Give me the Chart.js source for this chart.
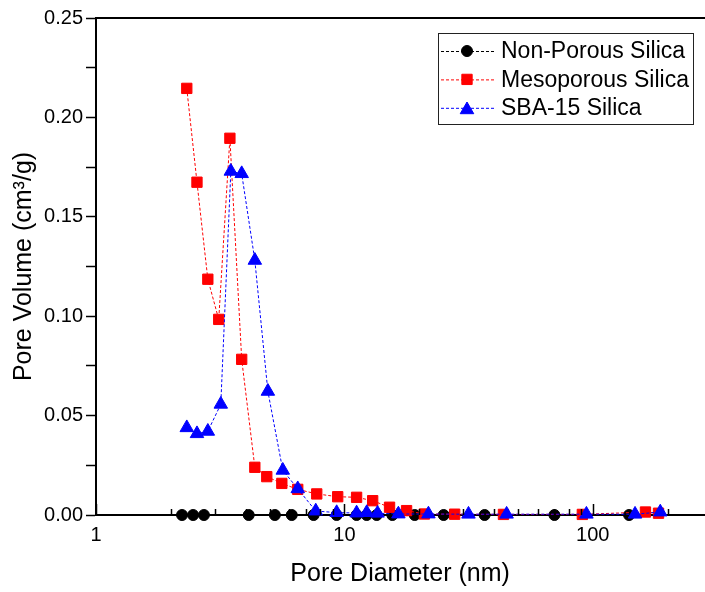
<!DOCTYPE html>
<html>
<head>
<meta charset="utf-8">
<title>Pore size distribution</title>
<script src="https://cdn.jsdelivr.net/npm/chart.js@4.4.1/dist/chart.umd.min.js"></script>
<style>
  html, body { margin: 0; padding: 0; background: #fff; overflow: hidden; }
  #poreChart { display: block; }
</style>
</head>
<body>
<canvas id="poreChart" width="713" height="592"></canvas>
<script>
const FONT = '"Liberation Sans", Arial, Helvetica, sans-serif';

const seriesNames = ["Non-Porous Silica", "Mesoporous Silica", "SBA-15 Silica"];
const seriesColors = ["#000000", "#ff0000", "#0000ff"];
const seriesMarkers = ["circle", "rect", "triangle"];

const nonPorousDiameter = [2.22, 2.46, 2.72, 4.12, 5.25, 6.14, 7.52, 9.31, 11.2, 12.3, 13.5, 15.6, 19.2, 25.1, 36.7, 70.1, 140];
const nonPorousVolume = [0, 0, 0, 0, 0, 0, 0, 0, 0, 0, 0, 0, 0, 0, 0, 0, 0];

const mesoDiameter = [2.32, 2.55, 2.82, 3.12, 3.46, 3.86, 4.36, 4.87, 5.60, 6.49, 7.74, 9.40, 11.2, 13.0, 15.2, 17.8, 21.0, 27.8, 43.7, 90.8, 163, 184];
const mesoVolume = [0.2146, 0.1674, 0.1186, 0.0984, 0.1895, 0.0783, 0.0240, 0.0193, 0.0159, 0.0129, 0.0106, 0.0092, 0.0089, 0.0072, 0.0039, 0.0022, 0.0005, 0.0004, 0.0003, 0.0003, 0.0015, 0.0009];

const sbaDiameter = [2.32, 2.55, 2.82, 3.18, 3.49, 3.86, 4.36, 4.92, 5.65, 6.49, 7.67, 9.31, 11.2, 12.3, 13.6, 16.5, 21.8, 31.6, 45.0, 94.3, 148, 187];
const sbaVolume = [0.0439, 0.0409, 0.0421, 0.0557, 0.1729, 0.1717, 0.1281, 0.0622, 0.0225, 0.0132, 0.0020, 0.0012, 0.0010, 0.0012, 0.0009, 0.0005, 0.0005, 0.0004, 0.0004, 0.0004, 0.0004, 0.0015];

const xTickValues = [1, 2, 3, 4, 5, 6, 7, 8, 9, 10, 20, 30, 40, 50, 60, 70, 80, 90, 100, 200];
const xMajorTicks = [1, 10, 100];
const xTickLabels = ["1", "10", "100"];
const yTickValues = [0, 0.025, 0.05, 0.075, 0.1, 0.125, 0.15, 0.175, 0.2, 0.225, 0.25];
const yTickLabels = ["0.00", "", "0.05", "", "0.10", "", "0.15", "", "0.20", "", "0.25"];

function toPoints(xs, ys) {
  return xs.map((x, i) => ({ x, y: ys[i] }));
}

function makeDataset(index, xs, ys, radius, order) {
  const color = seriesColors[index];
  return {
    label: seriesNames[index],
    data: toPoints(xs, ys),
    showLine: true,
    borderColor: color,
    borderWidth: 1,
    borderDash: [3, 2],
    backgroundColor: color,
    pointStyle: seriesMarkers[index],
    pointRadius: radius,
    pointBorderWidth: 1,
    pointBorderColor: color,
    pointBackgroundColor: color,
    clip: false,
    order
  };
}

// frame top line and inward ticks on the log axis
const framePlugin = {
  id: "frame",
  afterDraw(chart) {
    const { ctx, chartArea, scales } = chart;
    ctx.save();
    ctx.strokeStyle = "#000";
    ctx.lineWidth = 2;
    ctx.beginPath();
    ctx.moveTo(chartArea.left - 1, chartArea.top);
    ctx.lineTo(chartArea.right + 10, chartArea.top);
    ctx.stroke();

    ctx.lineWidth = 1.5;
    xTickValues.forEach(v => {
      const px = Math.round(scales.x.getPixelForValue(v)) + 0.5;
      const len = xMajorTicks.includes(v) ? 11 : 6;
      ctx.beginPath();
      ctx.moveTo(px, chartArea.bottom);
      ctx.lineTo(px, chartArea.bottom - len);
      ctx.stroke();
    });
    ctx.restore();
  }
};

const legendBox = { left: 438, top: 33, width: 255, height: 91, rowStart: 51, rowGap: 28.4 };

const legendPlugin = {
  id: "boxLegend",
  afterDraw(chart) {
    const { ctx } = chart;
    ctx.save();
    ctx.fillStyle = "#fff";
    ctx.fillRect(legendBox.left, legendBox.top, legendBox.width, legendBox.height);
    ctx.strokeStyle = "#222";
    ctx.lineWidth = 1;
    ctx.strokeRect(legendBox.left + 0.5, legendBox.top + 0.5, legendBox.width, legendBox.height);

    chart.data.datasets.forEach((ds, i) => {
      const y = legendBox.rowStart + i * legendBox.rowGap;
      ctx.strokeStyle = ds.borderColor;
      ctx.lineWidth = 1;
      ctx.setLineDash([3, 2]);
      ctx.beginPath();
      ctx.moveTo(legendBox.left + 3, y + 0.5);
      ctx.lineTo(legendBox.left + 56, y + 0.5);
      ctx.stroke();
      ctx.setLineDash([]);

      ctx.fillStyle = ds.pointBackgroundColor;
      Chart.helpers.drawPoint(ctx, {
        pointStyle: ds.pointStyle,
        radius: ds.pointRadius,
        borderWidth: 1,
        rotation: 0
      }, legendBox.left + 29, y + (ds.pointStyle === "triangle" ? 2 : 0));

      ctx.fillStyle = "#000";
      ctx.font = `23px ${FONT}`;
      ctx.textBaseline = "middle";
      ctx.textAlign = "left";
      ctx.fillText(ds.label, legendBox.left + 63, y + 1);
    });
    ctx.restore();
  }
};

const chart = new Chart(document.getElementById("poreChart"), {
  type: "scatter",
  data: {
    datasets: [
      makeDataset(0, nonPorousDiameter, nonPorousVolume, 5.5, 2),
      makeDataset(1, mesoDiameter, mesoVolume, 7.3, 1),
      makeDataset(2, sbaDiameter, sbaVolume, 7.8, 0)
    ]
  },
  options: {
    responsive: false,
    animation: false,
    devicePixelRatio: 1,
    layout: { padding: { top: 18, right: 0, bottom: 0, left: 0 } },
    plugins: {
      legend: { display: false },
      tooltip: { enabled: false }
    },
    scales: {
      x: {
        type: "logarithmic",
        min: 1,
        max: 281,
        afterBuildTicks: scale => {
          scale.ticks = xTickValues.map(v => ({ value: v, major: xMajorTicks.includes(v) }));
        },
        afterFit: scale => { scale.height = 77; },
        grid: { display: false, drawTicks: false },
        border: { display: true, color: "#000", width: 2 },
        ticks: {
          autoSkip: false,
          maxRotation: 0,
          padding: 8,
          color: "#000",
          font: { family: FONT, size: 20 },
          callback: value => {
            const k = xMajorTicks.indexOf(value);
            return k >= 0 ? xTickLabels[k] : "";
          }
        },
        title: {
          display: true,
          text: "Pore Diameter (nm)",
          color: "#000",
          font: { family: FONT, size: 25 },
          padding: { top: 0, bottom: 3 }
        }
      },
      y: {
        min: 0,
        max: 0.25,
        afterBuildTicks: scale => {
          scale.ticks = yTickValues.map(v => ({ value: v }));
        },
        afterFit: scale => { scale.width = 96; },
        grid: {
          drawOnChartArea: false,
          drawTicks: true,
          tickLength: 10,
          tickWidth: 1.5,
          tickColor: "#000"
        },
        border: { display: true, color: "#000", width: 2 },
        ticks: {
          padding: 3,
          color: "#000",
          font: { family: FONT, size: 20 },
          callback: (value, index) => yTickLabels[index]
        },
        title: {
          display: true,
          text: "Pore Volume (cm³/g)",
          color: "#000",
          font: { family: FONT, size: 25 },
          padding: { top: 9, bottom: 0 }
        }
      }
    }
  },
  plugins: [framePlugin, legendPlugin]
});
</script>
</body>
</html>
